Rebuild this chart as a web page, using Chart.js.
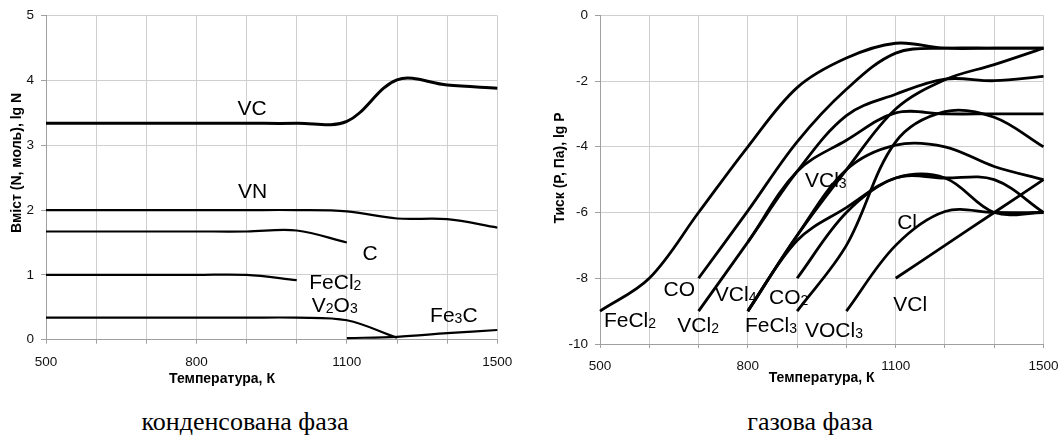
<!DOCTYPE html>
<html>
<head>
<meta charset="utf-8">
<script src="https://cdn.jsdelivr.net/npm/chart.js@4.4.1/dist/chart.umd.min.js"></script>
<style>
  body { margin: 0; background: #fff; width: 1059px; height: 436px; position: relative; overflow: hidden; }
  canvas { position: absolute; top: 0; }
  #condensed { left: 0; }
  #gas { left: 530px; }
  .cap { position: absolute; top: 407px; font-family: "Liberation Serif", "Times New Roman", serif;
         font-size: 26px; color: #000; transform: translateX(-50%); white-space: nowrap; line-height: 30px; }
</style>
</head>
<body>
<canvas id="condensed" width="530" height="392"></canvas>
<canvas id="gas" width="529" height="392"></canvas>
<div class="cap" style="left:245px">конденсована фаза</div>
<div class="cap" style="left:810px">газова фаза</div>
<script>
const _ = null;
const temps = ['500', '600', '700', '800', '900', '1000', '1100', '1200', '1300', '1500'];
const shownTicks = [0, 3, 6, 9];

// condensed phase, lg N
const nVC    = [3.34, 3.34, 3.34, 3.34, 3.34, 3.34, 3.37, 4.01, 3.93, 3.88];
const nVN    = [2.0, 2.0, 2.0, 2.0, 2.0, 2.0, 1.98, 1.87, 1.86, 1.73];
const nC     = [1.67, 1.67, 1.67, 1.67, 1.67, 1.685, 1.5, _, _, _];
const nFeCl2 = [1.0, 1.0, 1.0, 1.0, 1.0, 0.92, _, _, _, _];
const nV2O3  = [0.34, 0.34, 0.34, 0.34, 0.34, 0.34, 0.3, 0.03, _, _];
const nFe3C  = [_, _, _, _, _, _, 0.025, 0.045, 0.1, 0.15];

// gas phase, lg P
const pFeCl2 = [-9, -8, -6, -4, -2.2, -1.3, -0.85, -1, -1, -1];
const pCO    = [_, _, -8, -5.95, -3.85, -2.25, -1.15, -1, -1, -1];
const pVCl2  = [_, _, -9, -6.9, -4.75, -3.05, -2.4, -1.94, -1.99, -1.86];
const pVCl3  = [_, _, _, -6.9, -4.75, -3.8, -2.97, -3, -3, -3];
const pVCl4  = [_, _, _, -9, -6.7, -4.7, -2.85, -1.96, -1.5, -1];
const pOther = [_, _, _, -9, -6.7, -4.7, -3.95, -4.0, -4.6, -5.0];
const pFeCl3 = [_, _, _, -9, -6.85, -5.85, -4.95, -4.95, -6, -6];
const pCO2   = [_, _, _, _, -8, -6.0, -4.95, -4.95, -5.0, -6];
const pVOCl3 = [_, _, _, _, -9, -7.0, -3.85, -2.93, -3.1, -4];
const pCl    = [_, _, _, _, _, -9, -7.0, -5.97, -6.0, -6];
const pVCl   = [_, _, _, _, _, _, -8, -7, -6, -5];

// curve names: [text, category position of left edge, value at text middle]
const condNotes = [
  ['VC', 3.82, 3.58], ['VN', 3.83, 2.3], ['C', 6.31, 1.35],
  ['FeCl2', 5.25, 0.9], ['V2O3', 5.3, 0.54], ['Fe3C', 7.66, 0.39]
];
const gasNotes = [
  ['FeCl2', 0.08, -9.24], ['CO', 1.29, -8.3], ['VCl2', 1.57, -9.42],
  ['VCl4', 2.33, -8.47], ['FeCl3', 2.94, -9.42], ['CO2', 3.43, -8.56],
  ['VOCl3', 4.16, -9.57], ['VCl', 5.95, -8.76], ['Cl', 6.03, -6.26],
  ['VCl3', 4.16, -4.99]
];

const SANS = '"Liberation Sans", Arial, sans-serif';

function drawFormula(ctx, txt, x, y, size) {
  // digits are written as small subscripts
  let px = x;
  for (const part of txt.split(/(\d)/)) {
    if (!part) continue;
    const sub = /^\d$/.test(part);
    ctx.font = (sub ? Math.round(size * 0.67) : size) + 'px ' + SANS;
    ctx.fillText(part, px, y + (sub ? 1 : 0));
    px += ctx.measureText(part).width;
  }
}

const notes = {
  id: 'notes',
  afterDatasetsDraw(chart, args, opts) {
    const { ctx } = chart;
    const xs = chart.scales.x, ys = chart.scales.y;
    ctx.save();
    ctx.fillStyle = '#000';
    ctx.textAlign = 'left';
    ctx.textBaseline = 'alphabetic';
    for (const [txt, at, v] of opts.labels) {
      drawFormula(ctx, txt, xs.getPixelForValue(at), ys.getPixelForValue(v) + 0.358 * opts.size, opts.size);
    }
    ctx.font = 'bold 14px ' + SANS;
    ctx.textAlign = 'center';
    ctx.textBaseline = 'middle';
    for (const t of opts.titles) {
      ctx.save();
      ctx.translate(t.x, t.y);
      if (t.rot) ctx.rotate(-Math.PI / 2);
      ctx.fillText(t.text, 0, 0);
      ctx.restore();
    }
    ctx.restore();
  }
};

function line(data, width) {
  return { data, borderColor: '#000', borderWidth: width, pointRadius: 0, tension: 0.35, spanGaps: false, fill: false };
}

function makeChart(id, sets, yRange, box, noteLabels, titles) {
  return new Chart(document.getElementById(id), {
    type: 'line',
    data: { labels: temps, datasets: sets },
    plugins: [notes],
    options: {
      responsive: false,
      animation: false,
      events: [],
      layout: { padding: { left: 0, top: box.top, right: box.right, bottom: 0 } },
      plugins: {
        legend: { display: false },
        tooltip: { enabled: false },
        notes: { labels: noteLabels, titles, size: 21 }
      },
      scales: {
        x: {
          type: 'category',
          offset: false,
          grid: { color: '#cfcfcf', tickColor: '#a0a0a0', tickLength: 4, offset: false },
          border: { color: '#a0a0a0' },
          ticks: {
            autoSkip: false, maxRotation: 0, padding: 10, color: '#111',
            font: { family: SANS, size: 13.5 },
            callback: (v, i) => shownTicks.includes(i) ? temps[i] : ''
          },
          afterFit: s => { s.height = box.xh; s.paddingLeft = 0; s.paddingRight = 0; }
        },
        y: {
          min: yRange[0], max: yRange[1],
          grid: { color: '#cfcfcf', tickColor: '#a0a0a0', tickLength: 5 },
          border: { color: '#a0a0a0' },
          ticks: { stepSize: yRange[2], padding: 7, color: '#111', font: { family: SANS, size: 13.5 } },
          afterFit: s => { s.width = box.yw; s.paddingTop = 0; s.paddingBottom = 0; }
        }
      }
    }
  });
}

makeChart('condensed', [
  line(nVC, 3), line(nVN, 2.2), line(nC, 2.2), line(nFeCl2, 2.2), line(nV2O3, 2.2), line(nFe3C, 2.2)
], [0, 5, 1], { top: 15.7, right: 32.7, xh: 52.3, yw: 46 }, condNotes, [
  { text: 'Температура, К', x: 222, y: 379 },
  { text: 'Вміст (N, моль), lg N', x: 17, y: 163, rot: true }
]);

makeChart('gas', [
  line(pFeCl2, 2.8), line(pCO, 2.8), line(pVCl2, 2.8), line(pVCl3, 2.8), line(pVCl4, 2.8), line(pOther, 2.8),
  line(pFeCl3, 2.8), line(pCO2, 2.8), line(pVOCl3, 2.8), line(pCl, 2.8), line(pVCl, 2.8)
], [-10, 0, 2], { top: 15.3, right: 15.5, xh: 48, yw: 70 }, gasNotes, [
  { text: 'Температура, К', x: 291.7, y: 378.5 },
  { text: 'Тиск (P, Па), lg P', x: 30, y: 168, rot: true }
]);
</script>
</body>
</html>
